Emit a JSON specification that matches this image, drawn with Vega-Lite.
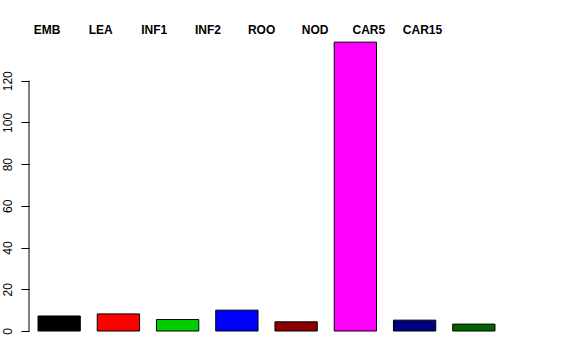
{
  "$schema": "https://vega.github.io/schema/vega-lite/v6.json",
  "autosize": {"type": "none"},
  "padding": {"left": 29, "top": 39, "right": 72, "bottom": 29},
  "width": 475,
  "height": 292,
  "background": "white",
  "config": {
    "view": {"stroke": null},
    "font": "Liberation Sans"
  },
  "data": {
    "values": [
      {"tissue": "EMB", "value": 7.2},
      {"tissue": "LEA", "value": 8.2},
      {"tissue": "INF1", "value": 5.5},
      {"tissue": "INF2", "value": 10.0},
      {"tissue": "ROO", "value": 4.4},
      {"tissue": "NOD", "value": 138.5},
      {"tissue": "CAR5", "value": 5.2},
      {"tissue": "CAR15", "value": 3.3}
    ]
  },
  "resolve": {"scale": {"x": "independent"}},
  "layer": [
    {
      "mark": {"type": "bar", "stroke": "black", "strokeWidth": 1, "cornerRadius": 0},
      "encoding": {
        "x": {
          "field": "tissue",
          "type": "nominal",
          "sort": null,
          "scale": {"paddingInner": 0.286, "paddingOuter": 0.152},
          "axis": null
        },
        "y": {
          "field": "value",
          "type": "quantitative",
          "scale": {"domain": [0, 140], "nice": false, "zero": true},
          "axis": {
            "values": [0, 20, 40, 60, 80, 100, 120],
            "title": null,
            "grid": false,
            "domain": false,
            "tickSize": 8,
            "tickColor": "black",
            "labelColor": "black",
            "labelFontSize": 12,
            "labelAngle": 270,
            "labelAlign": "center",
            "labelBaseline": "bottom",
            "labelPadding": 7,
            "labelFont": "Liberation Sans"
          }
        },
        "fill": {
          "field": "tissue",
          "type": "nominal",
          "scale": {
            "domain": ["EMB", "LEA", "INF1", "INF2", "ROO", "NOD", "CAR5", "CAR15"],
            "range": ["#000000", "#FF0000", "#00CD00", "#0000FF", "#8B0000", "#FF00FF", "#000080", "#006400"]
          },
          "legend": null
        }
      }
    },
    {
      "mark": {"type": "text", "fontWeight": "bold", "fontSize": 12, "baseline": "alphabetic", "align": "center", "color": "black", "font": "Liberation Sans"},
      "encoding": {
        "x": {
          "field": "tissue",
          "type": "ordinal",
          "sort": null,
          "scale": {"type": "point", "padding": 0.928, "align": 0.181},
          "axis": null
        },
        "y": {"datum": 142.3},
        "text": {"field": "tissue"}
      }
    },
    {
      "data": {"values": [{}]},
      "mark": {"type": "rule", "color": "black", "strokeWidth": 1},
      "encoding": {
        "x": {"value": 0},
        "y": {"datum": 0},
        "y2": {"datum": 120}
      }
    }
  ]
}
